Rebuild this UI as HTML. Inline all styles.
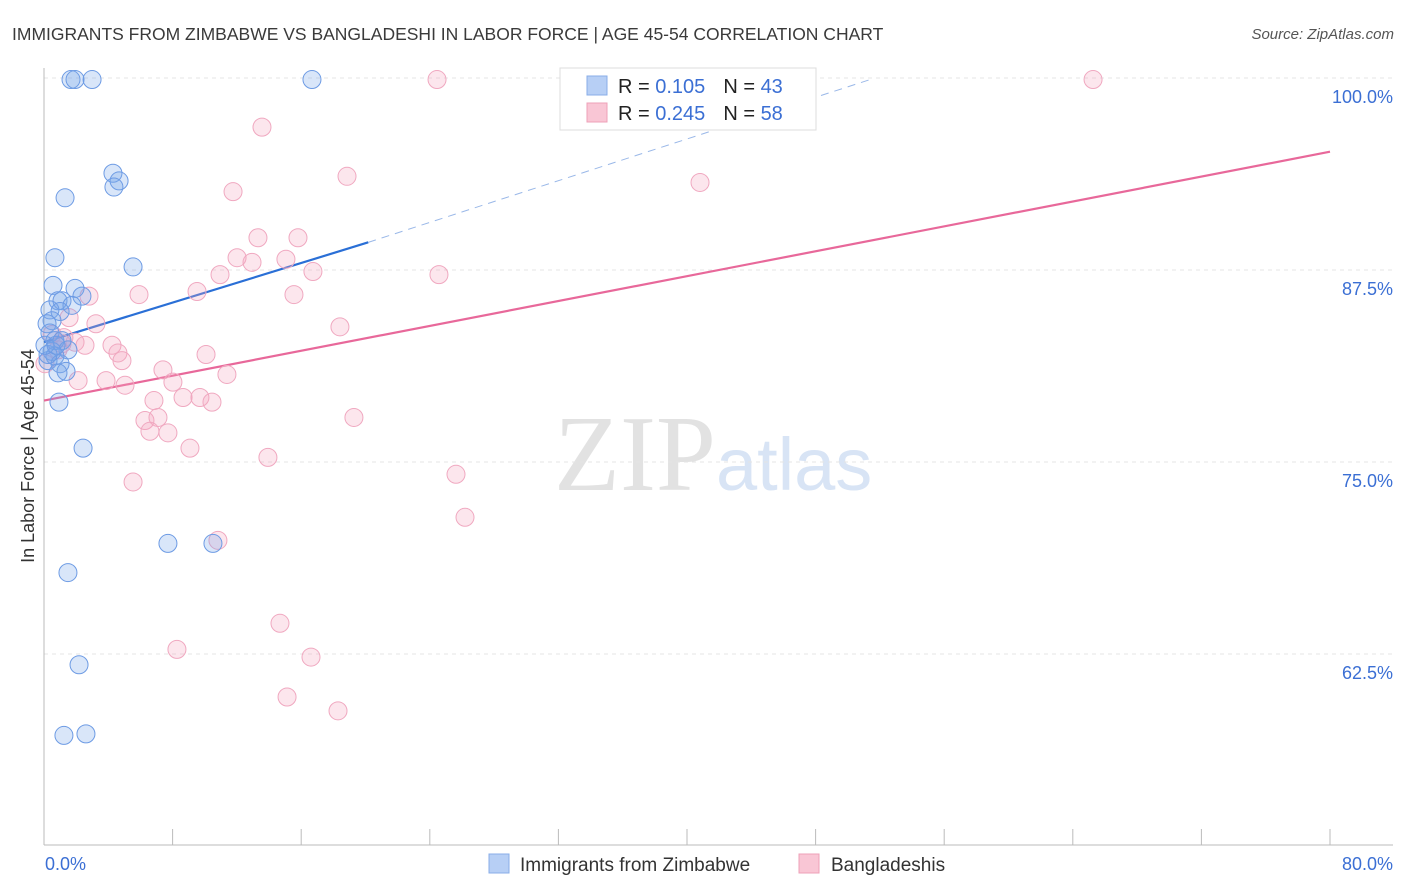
<!DOCTYPE html>
<html><head><meta charset="utf-8"><style>
body{margin:0;background:#fff;font-family:"Liberation Sans",sans-serif;}
svg{display:block}
</style></head><body>
<svg id="chart" width="1406" height="892">
<text x="12" y="40" font-size="17.5" fill="#3a3a3a">IMMIGRANTS FROM ZIMBABWE VS BANGLADESHI IN LABOR FORCE | AGE 45-54 CORRELATION CHART</text>
<text x="1394" y="39" font-size="15" fill="#555" font-style="italic" text-anchor="end">Source: ZipAtlas.com</text>
<text x="716" y="490" font-size="108" fill="#e2e2e2" text-anchor="end" font-family="Liberation Serif">ZIP</text>
<text x="716" y="490" font-size="74" fill="#d8e4f5">atlas</text>
<text transform="translate(34,456) rotate(-90)" font-size="18" fill="#333" text-anchor="middle">In Labor Force | Age 45-54</text>
<g id="grid"></g><g id="axes"></g><g id="trend"></g><g id="points"></g>
<g>
<rect x="560" y="68" width="256" height="62" fill="#fff" stroke="#ddd"/>
<rect x="587" y="76" width="20" height="19" fill="#b7cff5" stroke="#88aee8"/>
<rect x="587" y="103" width="20" height="19" fill="#f9c6d5" stroke="#eea0b8"/>
<text x="618" y="93" font-size="20" fill="#222">R = <tspan fill="#3b6fd4">0.105</tspan><tspan dx="18">N = </tspan><tspan fill="#3b6fd4">43</tspan></text>
<text x="618" y="120" font-size="20" fill="#222">R = <tspan fill="#3b6fd4">0.245</tspan><tspan dx="18">N = </tspan><tspan fill="#3b6fd4">58</tspan></text>
</g>
<g>
<rect x="489" y="854" width="20" height="19" fill="#b7cff5" stroke="#88aee8"/>
<text x="520" y="871" font-size="19" fill="#333">Immigrants from Zimbabwe</text>
<rect x="799" y="854" width="20" height="19" fill="#f9c6d5" stroke="#eea0b8"/>
<text x="831" y="871" font-size="19" fill="#333">Bangladeshis</text>
</g>
</svg>
<script>
const blueX=[1.68,1.93,2.99,16.67,1.31,4.29,4.67,4.35,0.68,5.54,0.56,1.93,2.36,0.87,1.12,1.74,0.37,1.0,0.5,0.19,0.37,0.68,1.12,1.49,0.5,0.68,0.25,1.0,1.37,0.87,0.93,2.43,7.71,10.51,1.49,2.18,1.24,2.61,0.25,0.06,0.75];
const blueY=[99.9,99.9,99.9,99.9,92.2,93.8,93.3,92.9,88.3,87.7,86.5,86.3,85.8,85.5,85.5,85.2,84.9,84.8,84.2,84.0,83.4,82.9,82.9,82.3,82.2,81.9,81.6,81.4,80.9,80.8,78.9,75.9,69.7,69.7,67.8,61.8,57.2,57.3,82.0,82.6,82.6];
const pinkX=[24.45,65.26,13.56,18.85,40.81,11.76,13.31,15.8,12.01,12.94,15.05,10.95,16.73,24.57,5.91,9.52,2.8,15.55,3.23,1.56,18.41,1.24,1.93,2.55,4.23,4.6,4.85,10.08,0.87,7.4,11.38,2.12,3.86,8.02,5.04,8.65,6.84,9.7,10.45,6.28,7.09,19.28,6.59,7.71,9.08,13.93,5.54,25.63,26.19,10.82,14.68,8.27,16.61,15.12,18.29,1.12,0.5,0.06];
const pinkY=[99.9,99.9,96.8,93.6,93.2,92.6,89.6,89.6,88.3,88.0,88.2,87.2,87.4,87.2,85.9,86.1,85.8,85.9,84.0,84.4,83.8,83.1,82.8,82.6,82.6,82.1,81.6,82.0,82.3,81.0,80.7,80.3,80.3,80.2,80.0,79.2,79.0,79.2,78.9,77.7,77.9,77.9,77.0,76.9,75.9,75.3,73.7,74.2,71.4,69.9,64.5,62.8,62.3,59.7,58.8,82.7,83.3,81.4];
const yTicks=[100,87.5,75,62.5];
const yTickLabels=["100.0%","87.5%","75.0%","62.5%"];
const blueTrend=[[0,82.8],[20.17,89.3]];
const blueDash=[[20.17,89.3],[51.4,99.9]];
const pinkTrend=[[0,79.0],[80,95.2]];
const xs=v=>44+v*16.075, ys=v=>78+(100-v)*15.36;
const NS="http://www.w3.org/2000/svg";
function mk(t,a,p){const e=document.createElementNS(NS,t);for(const k in a)e.setAttribute(k,a[k]);p.appendChild(e);return e;}
const grid=document.getElementById('grid'),axes=document.getElementById('axes'),tr=document.getElementById('trend'),pts=document.getElementById('points');
yTicks.forEach((v,i)=>{
 const l=mk('line',{x1:44,x2:1393,y1:ys(v),y2:ys(v),stroke:'#e4e4e4','stroke-dasharray':'4,4'},grid);
 
 
 const t=mk('text',{x:1393,y:ys(v)+25,'font-size':18,fill:'#3b6fd4','text-anchor':'end'},grid);
 t.textContent=yTickLabels[i];
 
 
});
const ya=mk('line',{x1:44,x2:44,y1:68,y2:845,stroke:'#bbb'},axes);


const xa=mk('line',{x1:44,x2:1393,y1:845,y2:845,stroke:'#bbb'},axes);


for(let i=0;i<=10;i++){const t=mk('line',{x1:xs(i*8),x2:xs(i*8),y1:829,y2:845,stroke:'#bbb'},axes);
 
 }
const x0=mk('text',{x:45,y:870,'font-size':18,fill:'#3b6fd4'},axes);x0.textContent='0.0%';


const x1=mk('text',{x:1393,y:870,'font-size':18,fill:'#3b6fd4','text-anchor':'end'},axes);x1.textContent='80.0%';


function line(seg,attrs,name){const e=mk('line',Object.assign({x1:xs(seg[0][0]),y1:ys(seg[0][1]),x2:xs(seg[1][0]),y2:ys(seg[1][1])},attrs),tr);
 
 }
function dots(X,Y,fill,stroke,name){X.forEach((x,i)=>{const c=mk('circle',{cx:xs(x),cy:ys(Y[i]),r:9,fill:fill,stroke:stroke,'stroke-width':1},pts);
 
 });}
dots(pinkX,pinkY,'rgba(244,165,192,0.28)','#f0a8c0','bangladeshi-point');
dots(blueX,blueY,'rgba(120,165,235,0.28)','#6d9be4','zimbabwe-point');
line(blueDash,{stroke:'#9ab8e8','stroke-width':1,'stroke-dasharray':'8,6'},'zimbabwe-trend-extension');
line(blueTrend,{stroke:'#2a6fd6','stroke-width':2.2},'zimbabwe-trend-line');
line(pinkTrend,{stroke:'#e8689a','stroke-width':2.2},'bangladeshi-trend-line');
</script>
</body></html>
